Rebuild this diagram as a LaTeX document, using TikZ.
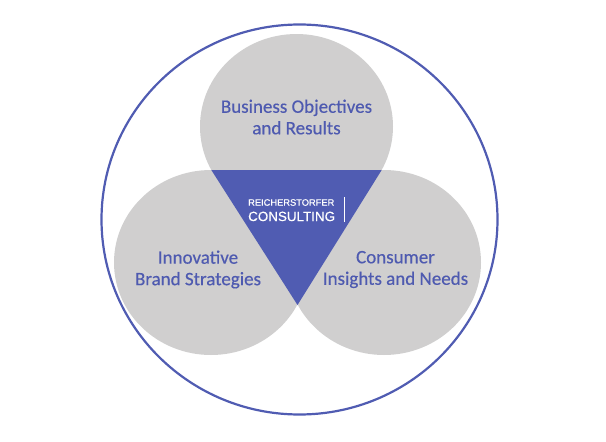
\documentclass[tikz,border=0pt]{standalone}
\usepackage{fontspec}
\newfontfamily\calibrifont[BoldFont=Carlito, BoldFeatures={FakeBold=0.4}]{Carlito}
\newfontfamily\arialfont[BoldFont=Liberation Sans, BoldFeatures={FakeBold=0.3}]{Liberation Sans}
\definecolor{rcblue}{RGB}{80,92,178}
\definecolor{rctext}{RGB}{78,90,176}
\definecolor{rcgray}{RGB}{208,207,207}
\usetikzlibrary{positioning}

\begin{document}
\begin{tikzpicture}[x=1pt, y=-1pt, every node/.style={inner sep=0pt},
    venntext/.style={font=\calibrifont\bfseries\fontsize{19}{21.5}\selectfont, text=rctext, align=center},
    logotext/.style={text=white, anchor=west}]
  \useasboundingbox (0,0) rectangle (606,442);
  % Outer ring
  \draw[rcblue, line width=2.2pt] (299.5,219.5) ellipse [x radius=198, y radius=195];
  % Three grey circles
  \fill[rcgray] (296.5,126.5) ellipse [x radius=96.5, y radius=92.5];
  \fill[rcgray] (211,262.5) ellipse [x radius=97, y radius=92.5];
  \fill[rcgray] (384,262.5) ellipse [x radius=97, y radius=92.5];
  % Centre triangle
  \fill[rcblue] (211.3,170) -- (381.7,170) -- (297.5,305) -- cycle;

  % Circle labels
  \node[venntext] (objectives) at (296.5,117) {Business Objectives\\and Results};
  \node[venntext] (brand) at (198,269.5) {Innovative\\Brand Strategies};
  \node[venntext] (consumer) at (395.5,269.5) {Consumer\\Insights and Needs};

  % Logo
  \node[logotext, font=\arialfont\bfseries\fontsize{9.3}{10}\selectfont] (logotop) at (248,202.5) {REICHERSTORFER};
  \node[logotext, font=\arialfont\bfseries\fontsize{13.4}{14}\selectfont, below=5.5pt of logotop.south west, anchor=north west] (logobottom) {CONSULTING};
  \draw[white, line width=0.6pt] (344.5,197) -- (344.5,222);
\end{tikzpicture}
\end{document}
